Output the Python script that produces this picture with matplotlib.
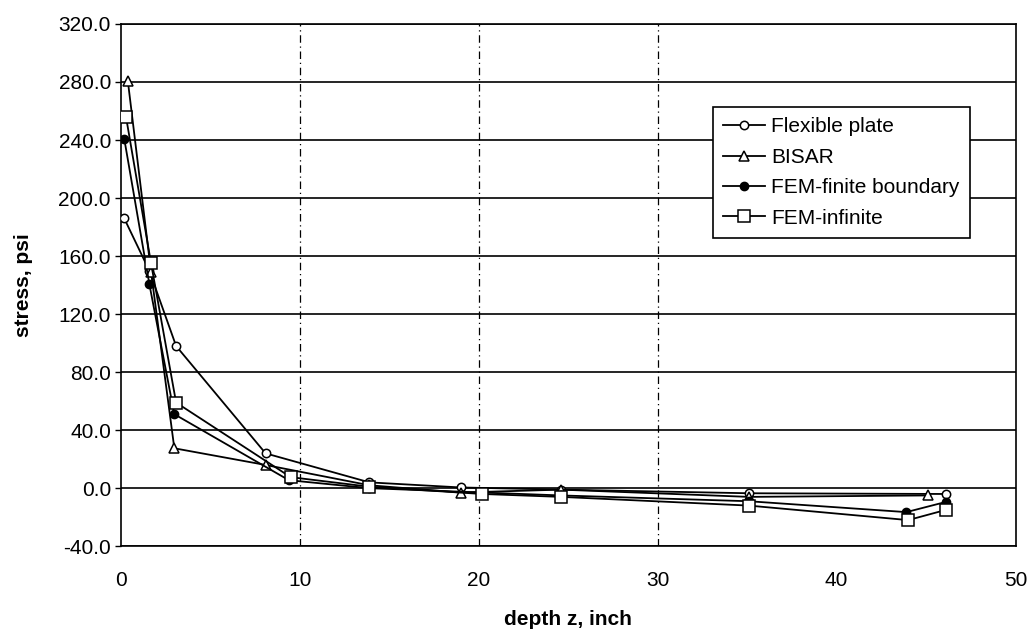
import numpy as np
import matplotlib.pyplot as plt

plt.rcParams['font.family'] = ['Liberation Sans', 'DejaVu Sans']

# data
flex_x = [0.2, 1.6, 3.1, 8.1, 13.9, 19.0, 24.6, 35.1, 46.1]
flex_y = [186, 150, 98, 24, 4, 0.5, -1, -3.5, -4]

bisar_x = [0.4, 1.7, 3.0, 8.1, 13.9, 19.0, 24.6, 35.1, 45.1]
bisar_y = [281, 149, 27.5, 16, 2, -3, -1, -6, -5]

femf_x = [0.2, 1.6, 3.0, 9.4, 13.9, 20.2, 24.6, 35.1, 43.9, 46.1]
femf_y = [241, 141, 51, 5.5, 0, -3, -5, -9, -16.5, -9.5]

femi_x = [0.3, 1.7, 3.1, 9.5, 13.9, 20.2, 24.6, 35.1, 44.0, 46.1]
femi_y = [256, 155, 59, 7.6, 1, -4, -6, -12, -22, -15]

vgrid = [10, 20, 30]

fig = plt.figure(figsize=(10.31, 6.30), dpi=100)
ax = fig.add_axes([0.117, 0.133, 0.868, 0.829])

lw = 1.3
ax.plot(flex_x, flex_y, color='black', lw=lw, marker='o', ms=6,
        mfc='white', mec='black', mew=1.1, label='Flexible plate', zorder=3)
ax.plot(bisar_x, bisar_y, color='black', lw=lw, marker='^', ms=7,
        mfc='white', mec='black', mew=1.1, label='BISAR', zorder=3)
ax.plot(femf_x, femf_y, color='black', lw=lw, marker='o', ms=6,
        mfc='black', mec='black', label='FEM-finite boundary', zorder=3)
ax.plot(femi_x, femi_y, color='black', lw=lw, marker='s', ms=8,
        mfc='white', mec='black', mew=1.1, label='FEM-infinite', zorder=3)

ax.set_xlim(0, 50)
ax.set_ylim(-40, 320)
ax.set_xticks(np.arange(0, 51, 10))
ax.set_yticks(np.arange(-40, 321, 40))
ax.set_yticklabels([f'{v:.1f}' for v in np.arange(-40, 321, 40)])
ax.tick_params(axis='both', labelsize=15, direction='out', length=4, width=1)
ax.tick_params(axis='y', pad=3)
ax.tick_params(axis='x', length=0, pad=18)

ax.yaxis.grid(True, color='black', lw=1.2)
for v in vgrid:
    ax.axvline(v, color='black', lw=0.9, ls=(0, (6, 3, 1, 3)), zorder=1)
ax.set_axisbelow(True)
for s in ax.spines.values():
    s.set_linewidth(1.2)

ax.set_xlabel('depth z, inch', fontsize=15, fontweight='bold', labelpad=14)
ax.set_ylabel('stress, psi', fontsize=15, fontweight='bold', labelpad=18)

leg = ax.legend(loc='upper left', bbox_to_anchor=(0.662, 0.841), fontsize=15,
                frameon=True, fancybox=False, edgecolor='black',
                handlelength=2.0, handletextpad=0.3, borderpad=0.5,
                labelspacing=0.55, borderaxespad=0)
leg.get_frame().set_linewidth(1.2)
leg.get_frame().set_alpha(1)

plt.savefig('out.png', dpi=100)
